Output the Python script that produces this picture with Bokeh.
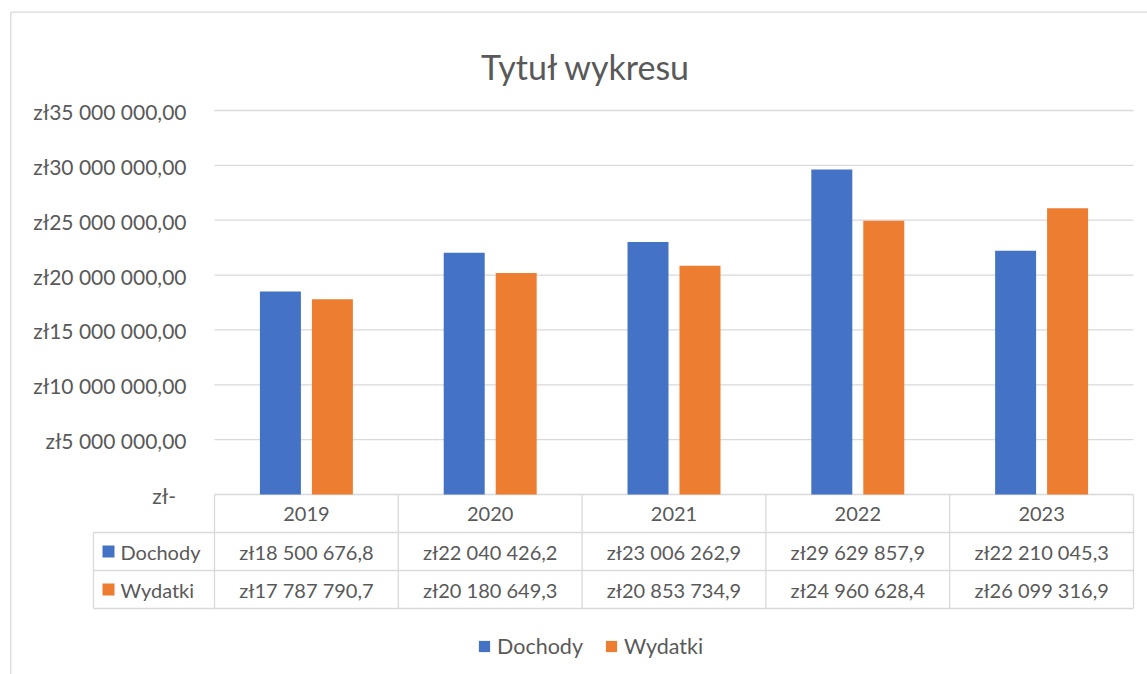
from bokeh.plotting import figure
from bokeh.models import ColumnDataSource, Range1d, Legend, LegendItem
from bokeh.core.properties import value
from bokeh.embed import file_html
from bokeh.resources import INLINE

# ---------------- data ----------------
years = ["2019", "2020", "2021", "2022", "2023"]
dochody = [18500676.8, 22040426.2, 23006262.9, 29629857.9, 22210045.3]
wydatki = [17787790.7, 20180649.3, 20853734.9, 24960628.4, 26099316.9]
series_names = ["Dochody", "Wydatki"]
y_ticks = [0, 5000000, 10000000, 15000000, 20000000, 25000000, 30000000, 35000000]
y_tick_labels = ["zł-\u2002", "zł5 000 000,00", "zł10 000 000,00", "zł15 000 000,00",
                 "zł20 000 000,00", "zł25 000 000,00", "zł30 000 000,00", "zł35 000 000,00"]
title_text = "Tytuł wykresu"

# ---------------- style ----------------
BLUE = "#4472C4"
ORANGE = "#ED7D31"
TXT = "#595959"
GRID = "#D9D9D9"
FONT = value("Lato")
LW = 1.3


def fmt(v):
    return "zł" + f"{v:,.1f}".replace(",", " ").replace(".", ",")


n = len(years)
off, bw = 0.1414, 0.223
centers = [i + 0.5 for i in range(n)]
src = ColumnDataSource(dict(
    x=centers, year=years, doch=dochody, wyd=wydatki,
    xd=[c - off for c in centers], xw=[c + off for c in centers],
    doch_txt=[fmt(v) for v in dochody],
    wyd_txt=[fmt(v) for v in wydatki],
))

# ---------------- layout (page pixels) ----------------
W, H = 1147, 674
PL, PR, PT, PB = 214, 1133, 110, 494      # plot area: left, right, top (35M), bottom (0)
Y_TOP = y_ticks[-1]
per_px = Y_TOP / (PB - PT)
unit = (PR - PL) / n

p = figure(width=W, height=H, output_backend="svg", toolbar_location=None,
           x_range=Range1d(-PL / unit, n + (W - PR) / unit),
           y_range=Range1d(-(H - PB) * per_px, Y_TOP + PT * per_px),
           x_axis_location=None, y_axis_location=None, title=None,
           min_border_left=0, min_border_right=0, min_border_top=0, min_border_bottom=0)
p.extra_x_ranges = {"px": Range1d(0, W)}
p.extra_y_ranges = {"py": Range1d(H, 0)}
p.outline_line_color = None
p.grid.visible = False
p.background_fill_color = "white"
p.border_fill_color = "white"

# outer chart border (left and top edges visible)
p.segment(x0=[10.3, 10.3], x1=[10.3, W], y0=[H, 11.7], y1=[11.7, 11.7],
          x_range_name="px", y_range_name="py", line_color=GRID, line_width=LW)

# title
p.text(x=[585.5], y=[66], text=[title_text], x_range_name="px", y_range_name="py",
       text_font=FONT, text_font_size="34px", text_color=TXT,
       text_align="center", text_baseline="alphabetic")

# gridlines and y tick labels
p.segment(x0=[0] * len(y_ticks), x1=[n] * len(y_ticks), y0=y_ticks, y1=y_ticks,
          line_color=GRID, line_width=LW)
tick_src = ColumnDataSource(dict(y=y_ticks, lab=y_tick_labels))
p.text(x=186, y="y", text="lab", source=tick_src, x_range_name="px",
       text_font=FONT, text_font_size="21px", text_color=TXT,
       text_align="right", text_baseline="middle", y_offset=1)

# bars
r1 = p.vbar(x="xd", top="doch", width=bw, bottom=0,
            source=src, fill_color=BLUE, line_color=None)
r2 = p.vbar(x="xw", top="wyd", width=bw, bottom=0,
            source=src, fill_color=ORANGE, line_color=None)

# data table
ROW_TOP, ROW_H = PB, 38
TL = 93  # left edge of the legend column
bounds = list(range(n + 1))
p.segment(x0=bounds, x1=bounds, y0=[ROW_TOP] * (n + 1), y1=[ROW_TOP + 3 * ROW_H] * (n + 1),
          y_range_name="py", line_color=GRID, line_width=LW)
hy = [ROW_TOP + ROW_H, ROW_TOP + 2 * ROW_H, ROW_TOP + 3 * ROW_H]
p.segment(x0=[0] * 3, x1=[n] * 3, y0=hy, y1=hy, y_range_name="py",
          line_color=GRID, line_width=LW)
p.segment(x0=[TL] * 3 + [TL], x1=[PL] * 3 + [TL], y0=hy + [hy[0]], y1=hy + [hy[-1]],
          x_range_name="px", y_range_name="py", line_color=GRID, line_width=LW)

common = dict(text_font=FONT, text_font_size="20px", text_color=TXT, text_align="center",
              text_baseline="middle", y_range_name="py", source=src)
p.text(x="x", y=ROW_TOP + ROW_H / 2, text="year", **common)
p.text(x="x", y=ROW_TOP + 1.5 * ROW_H, text="doch_txt", **common)
p.text(x="x", y=ROW_TOP + 2.5 * ROW_H, text="wyd_txt", **common)

# legend keys inside the table
row_mid = [ROW_TOP + 1.5 * ROW_H, ROW_TOP + 2.5 * ROW_H]
p.rect(x=[108, 108], y=row_mid, width=12, height=12, width_units="screen",
       height_units="screen", x_range_name="px", y_range_name="py",
       fill_color=[BLUE, ORANGE], line_color=None)
p.text(x=[120, 120], y=row_mid, text=series_names, x_range_name="px", y_range_name="py",
       text_font=FONT, text_font_size="20px", text_color=TXT,
       text_align="left", text_baseline="middle")

# legend
legend = Legend(items=[LegendItem(label=series_names[0], renderers=[r1]),
                       LegendItem(label=series_names[1], renderers=[r2])],
                orientation="horizontal", location=(477, 15),
                padding=0, margin=0, spacing=21, label_standoff=6,
                glyph_width=14, glyph_height=14,
                border_line_color=None, background_fill_alpha=0,
                label_text_font="Lato", label_text_font_size="21.5px", label_text_color=TXT)
p.add_layout(legend)

open("out.html", "w").write(file_html(p, INLINE))
